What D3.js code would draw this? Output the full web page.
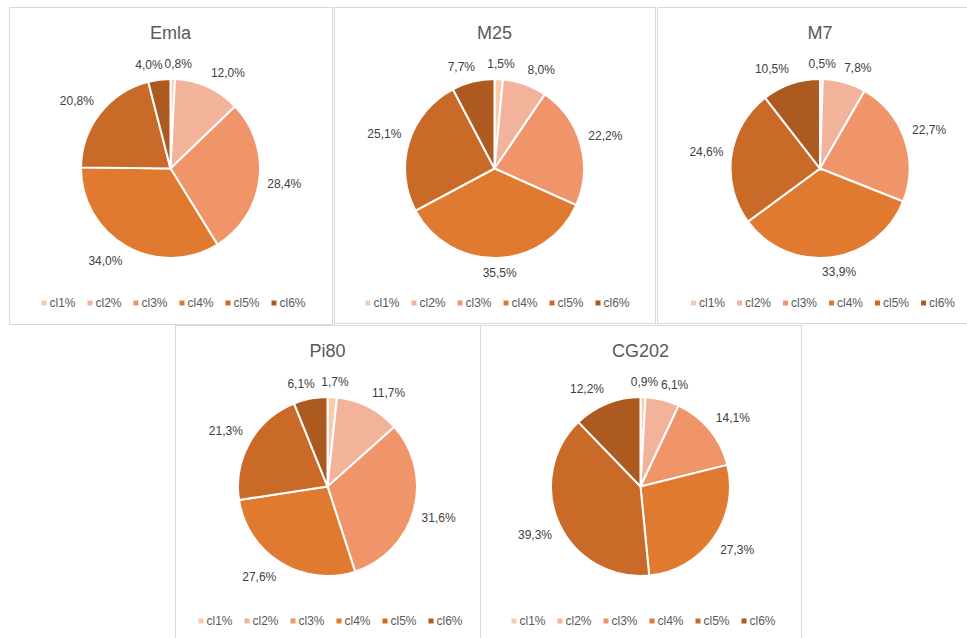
<!DOCTYPE html>
<html>
<head>
<meta charset="utf-8">
<script src="https://cdn.jsdelivr.net/npm/d3@7"></script>
<style>
  body { margin: 0; background: #fff; }
  text { font-family: "Liberation Sans", Arial, sans-serif; }
</style>
</head>
<body>
<div id="chart"></div>
<script>
// Data
const categories = ["cl1%", "cl2%", "cl3%", "cl4%", "cl5%", "cl6%"];
const titles = ["Emla", "M25", "M7", "Pi80", "CG202"];
const emlaValues = [0.8, 12.0, 28.4, 34.0, 20.8, 4.0];
const m25Values = [1.5, 8.0, 22.2, 35.5, 25.1, 7.7];
const m7Values = [0.5, 7.8, 22.7, 33.9, 24.6, 10.5];
const pi80Values = [1.7, 11.7, 31.6, 27.6, 21.3, 6.1];
const cg202Values = [0.9, 6.1, 14.1, 27.3, 39.3, 12.2];
const seriesValues = [emlaValues, m25Values, m7Values, pi80Values, cg202Values];

// Layout of the panels (x, y, width, height)
const panels = [
    { x: 9, y: 7, w: 323, h: 317 },
    { x: 334, y: 7, w: 321, h: 316 },
    { x: 657, y: 7, w: 326, h: 316 },
    { x: 175, y: 325, w: 305, h: 320 },
    { x: 480, y: 325, w: 321, h: 320 }
];

const color = d3.scaleOrdinal()
    .domain(categories)
    .range(["#F8CBAD", "#F3B29A", "#F0956A", "#E17A31", "#C96A29", "#AD5A21"]);

const width = 967, height = 638;
const radius = 89.5;

const svg = d3.select("#chart")
    .append("svg")
    .attr("width", width)
    .attr("height", height);

const pie = d3.pie().sort(null).value(d => d.value);
const arc = d3.arc().innerRadius(0).outerRadius(radius);
const fmt = v => v.toFixed(1).replace(".", ",") + "%";
const clamp = v => Math.max(-1, Math.min(1, v));

panels.forEach((p, i) => {
    const data = categories.map((c, j) => ({ cat: c, value: seriesValues[i][j] }));
    const cx = p.x + p.w / 2;
    const cy = p.y + 161.5;

    // Panel frame
    svg.append("rect")
        .attr("x", p.x + 0.5)
        .attr("y", p.y + 0.5)
        .attr("width", p.w)
        .attr("height", p.h)
        .attr("fill", "#fff")
        .attr("stroke", "#D9D9D9")
        .attr("stroke-width", 1);

    // Title
    svg.append("text")
        .attr("x", cx)
        .attr("y", p.y + 32)
        .attr("text-anchor", "middle")
        .attr("font-size", 18)
        .attr("fill", "#595959")
        .text(titles[i]);

    const g = svg.append("g")
        .attr("transform", `translate(${cx},${cy})`);

    const arcs = pie(data);

    // Slices
    g.selectAll("path")
        .data(arcs)
        .enter()
        .append("path")
        .attr("d", arc)
        .attr("fill", d => color(d.data.cat))
        .attr("stroke", "#fff")
        .attr("stroke-width", 2);

    // Data labels, outside end
    const boxes = [];
    const labels = g.selectAll(".label")
        .data(arcs)
        .enter()
        .append("text")
        .attr("class", "label")
        .attr("font-size", 12)
        .attr("fill", "#404040")
        .attr("text-anchor", "middle")
        .attr("dy", "0.35em")
        .text(d => fmt(d.data.value))
        .each(function(d) {
            const a = (d.startAngle + d.endAngle) / 2;
            const dx = Math.sin(a), dy = -Math.cos(a);
            const hw = this.getComputedTextLength() / 2;
            const hh = 7;
            const r = radius + 8;
            boxes.push({ x: dx * r + hw * clamp(dx * 3), y: dy * r + hh * clamp(dy * 3), hw: hw });
        });

    // push apart neighbours that collide (last and first wrap round at the top)
    for (let k = 0; k < boxes.length; k++) {
        const b1 = boxes[(k + boxes.length - 1) % boxes.length];
        const b2 = boxes[k];
        if (Math.abs(b1.y - b2.y) < 14) {
            const need = b1.hw + b2.hw + 2 - Math.abs(b1.x - b2.x);
            if (need > 0) {
                const s = b1.x < b2.x ? 1 : -1;
                b1.x -= s * need / 2;
                b2.x += s * need / 2;
            }
        }
    }

    labels
        .attr("x", (d, k) => boxes[k].x)
        .attr("y", (d, k) => boxes[k].y);

    // Legend
    const itemW = 46;
    const legend = svg.append("g")
        .attr("transform", `translate(${cx + 3 - itemW * categories.length / 2 + 6},${p.y + 296})`);

    const item = legend.selectAll("g")
        .data(categories)
        .enter()
        .append("g")
        .attr("transform", (d, j) => `translate(${j * itemW},0)`);

    item.append("rect")
        .attr("x", 0)
        .attr("y", -2.5)
        .attr("width", 5)
        .attr("height", 5)
        .attr("fill", d => color(d));

    item.append("text")
        .attr("x", 8)
        .attr("dy", "0.35em")
        .attr("font-size", 12)
        .attr("fill", "#595959")
        .text(d => d);
});
</script>
</body>
</html>
